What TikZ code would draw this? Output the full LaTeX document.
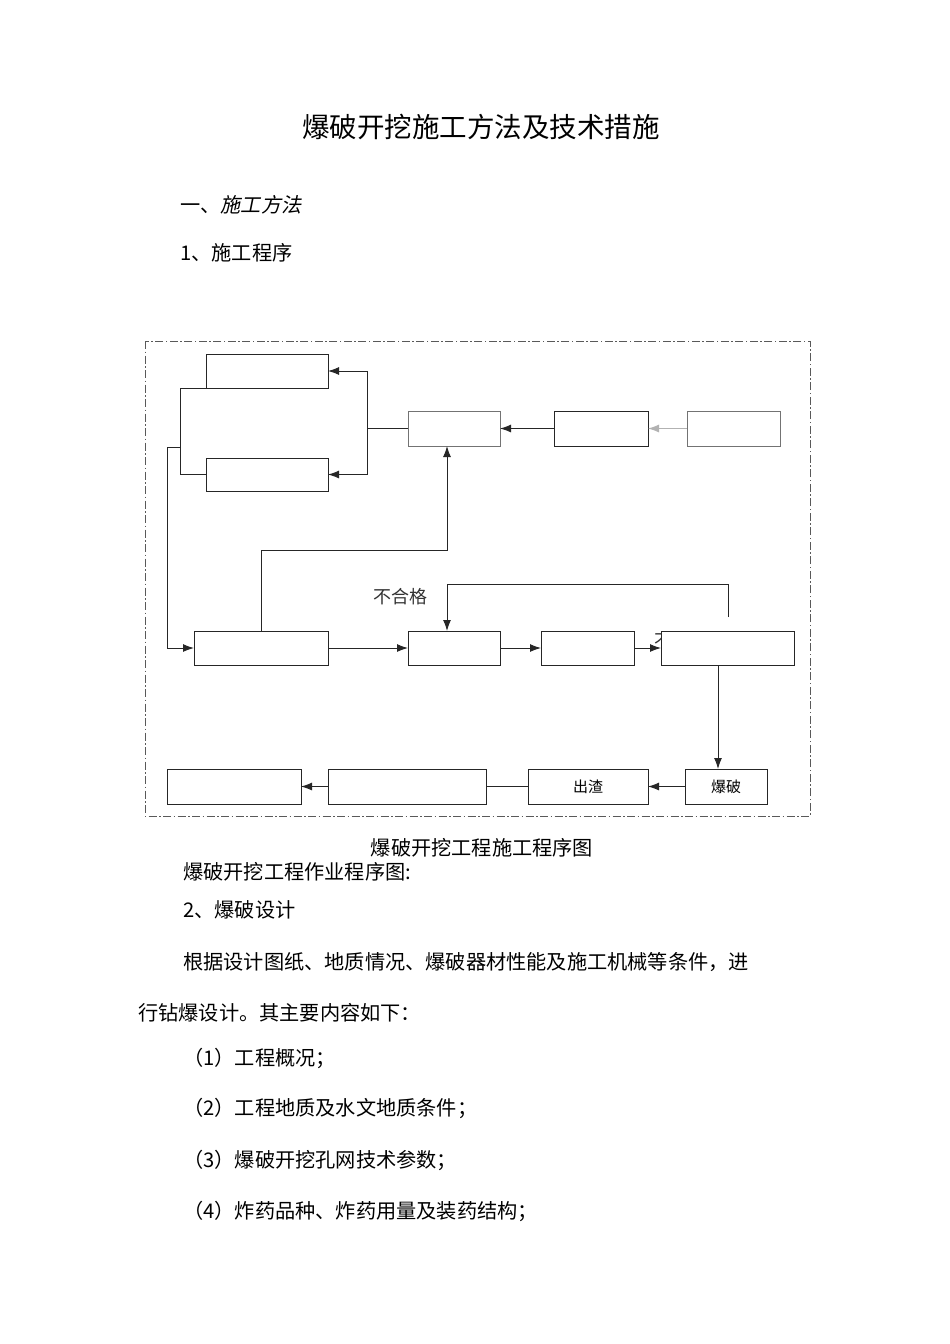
\documentclass[tikz,border=0pt]{standalone}
\usepackage{fontspec}
\setmainfont{Noto Sans CJK SC}
\newfontfamily\cjk{Noto Sans CJK SC}
\newfontfamily\cjkit[FakeSlant=0.2]{Noto Sans CJK SC}
\usetikzlibrary{arrows.meta}
\begin{document}
\begin{tikzpicture}[x=1pt,y=-1pt,
  bx/.style={draw=black!85,line width=1pt,fill=white,inner sep=0pt,outer sep=0pt,font=\cjk\fontsize{15}{15}\selectfont},
  gbx/.style={bx,draw=black!55},
  ln/.style={draw=black!85,line width=1pt},
  arr/.style={ln,-{Latex[length=11pt,width=8pt]}},
  garr/.style={draw=black!30,line width=1pt,-{Latex[length=11pt,width=8pt]}},
  body/.style={font=\cjk\fontsize{20.2}{20.2}\selectfont,inner sep=0pt,anchor=west},
]
\useasboundingbox (0,0) rectangle (950,1344);
\fill[white] (0,0) rectangle (950,1344);

% heading texts
\node[font=\cjk\fontsize{27.5}{27.5}\selectfont,inner sep=0pt] (title) at (481,127) {爆破开挖施工方法及技术措施};
\node[body] (h1) at (180,205) {一、{\cjkit 施工方法}};
\node[body] (h2) at (180,253) {1、施工程序};

% frame
\draw[black!65,line width=1pt,dash pattern=on 8pt off 2.5pt on 1.5pt off 2.5pt] (145,341) rectangle (810,816);

% clipped label behind box I
\node[font=\cjk\fontsize{18}{18}\selectfont,inner sep=0pt,text=black!80] (frag) at (663,641) {不};

% boxes
\node[bx,minimum width=122pt,minimum height=34pt] (A) at (267,371) {};
\node[bx,minimum width=122pt,minimum height=33pt] (B) at (267,474.5) {};
\node[gbx,minimum width=92pt,minimum height=35pt] (C) at (454,428.5) {};
\node[bx,minimum width=94pt,minimum height=35pt] (D) at (601,428.5) {};
\node[gbx,minimum width=93pt,minimum height=35pt] (E) at (733.5,428.5) {};
\node[bx,minimum width=134pt,minimum height=34pt] (F) at (261,648) {};
\node[bx,minimum width=92pt,minimum height=34pt] (G) at (454,648) {};
\node[bx,minimum width=93pt,minimum height=34pt] (H) at (587.5,648) {};
\node[bx,minimum width=133pt,minimum height=34pt] (I) at (727.5,648) {};
\node[bx,minimum width=134pt,minimum height=35pt] (J) at (234,786.5) {};
\node[bx,minimum width=158pt,minimum height=35pt] (K) at (407,786.5) {};
\node[bx,minimum width=120pt,minimum height=35pt] (L) at (588,786.5) {出渣};
\node[bx,minimum width=82pt,minimum height=35pt] (M) at (726,786.5) {爆破};

% label
\node[font=\cjk\fontsize{18}{18}\selectfont,inner sep=0pt,text=black!80] (ng) at (400,597) {不合格};

% top part connectors
\draw[garr] (E.west) -- (D.east);
\draw[arr] (D.west) -- (C.east);
\coordinate (j1) at (367,428.5);
\draw[ln] (C.west) -- (j1);
\draw[arr] (j1) |- (A.east);
\draw[arr] (j1) |- (B.east);
\coordinate (b1) at (180,388);
\coordinate (b2) at (180,474.5);
\coordinate (b3) at (180,447);
\draw[ln] (A.south west) -- (b1) -- (b2) -- (B.west);
\draw[arr] (b3) -- (167,447) |- (F.west);

% middle connectors
\draw[arr] (F.north) -- (261,550) -| ([xshift=-7pt]C.south);
\coordinate (fb) at (728,617);
\draw[arr] (fb) -- (728,584) -| ([xshift=-7pt]G.north);
\draw[arr] (F.east) -- (G.west);
\draw[arr] (G.east) -- (H.west);
\draw[arr] (H.east) -- (I.west);
\draw[arr] ([xshift=-9.5pt]I.south) -- ([xshift=-8pt]M.north);

% bottom connectors
\draw[arr] (M.west) -- (L.east);
\draw[ln] (L.west) -- (K.east);
\draw[arr] (K.west) -- (J.east);

% caption and body text
\node[font=\cjk\fontsize{20.2}{20.2}\selectfont,inner sep=0pt] (cap) at (482,848) {爆破开挖工程施工程序图};
\node[body] (p1) at (183,872) {爆破开挖工程作业程序图:};
\node[body] (p2) at (183,910) {2、爆破设计};
\node[body] (p3) at (183,962) {根据设计图纸、地质情况、爆破器材性能及施工机械等条件，进};
\node[body] (p4) at (138,1013) {行钻爆设计。其主要内容如下：};
\node[body] (l1) at (183,1058) {（1）工程概况；};
\node[body] (l2) at (183,1108) {（2）工程地质及水文地质条件；};
\node[body] (l3) at (183,1160) {（3）爆破开挖孔网技术参数；};
\node[body] (l4) at (183,1211) {（4）炸药品种、炸药用量及装药结构；};
\end{tikzpicture}
\end{document}
